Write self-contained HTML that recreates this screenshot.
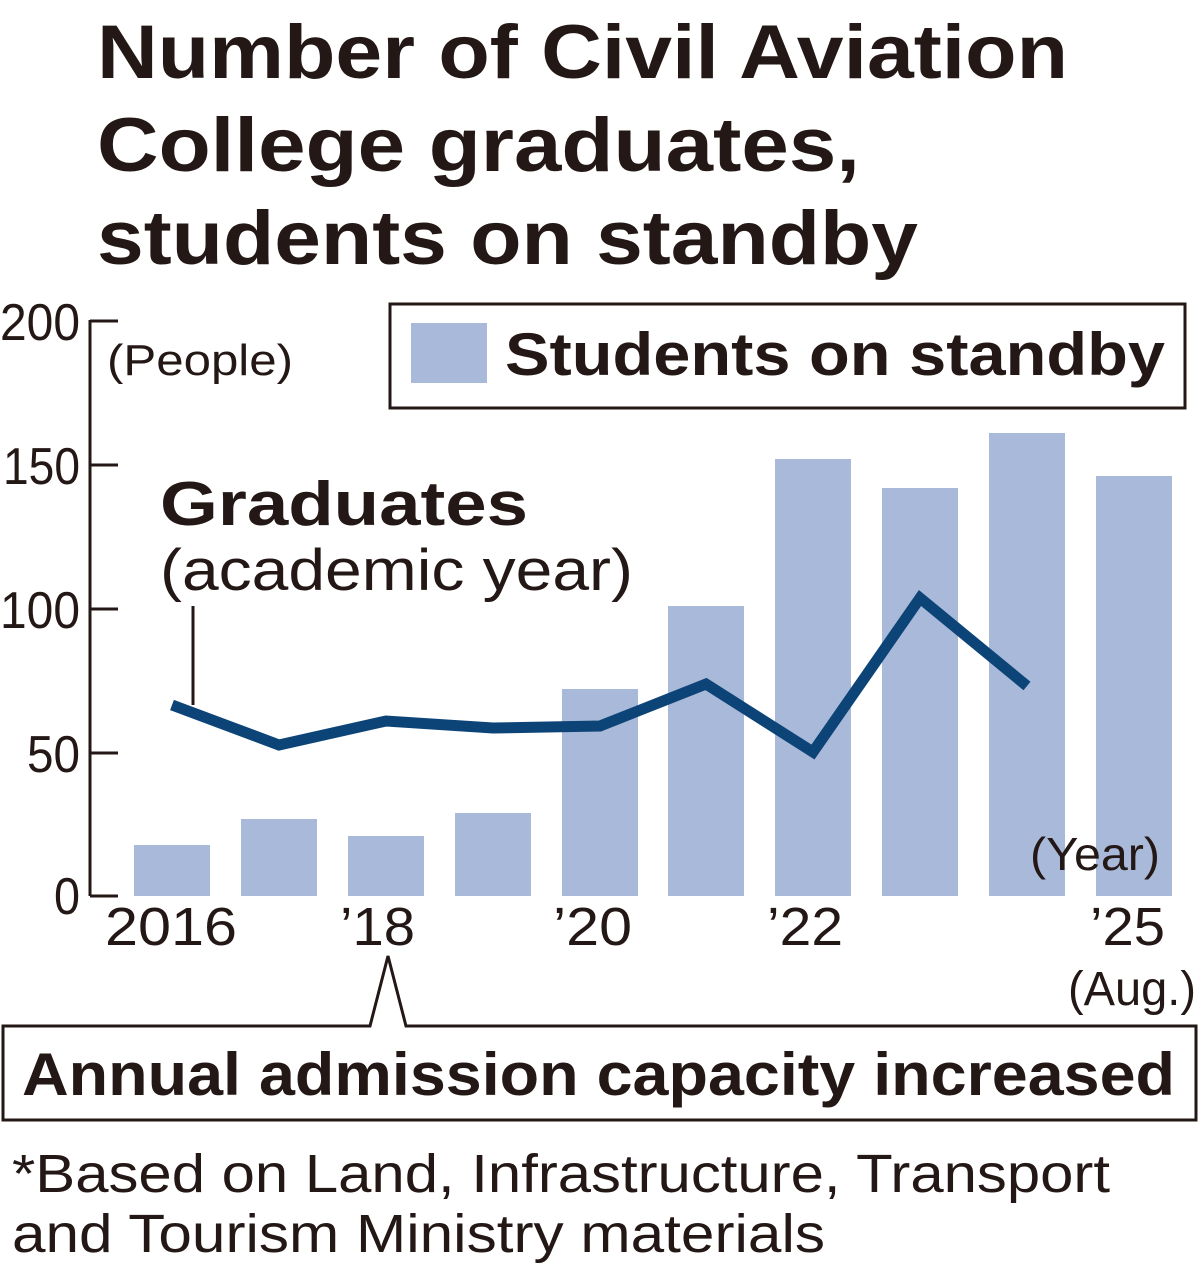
<!DOCTYPE html>
<html><head><meta charset="utf-8"><style>
body{margin:0;background:#fff;}
svg text{font-family:"Liberation Sans",sans-serif;fill:#231815;}
</style></head><body>
<svg width="1200" height="1266" xmlns="http://www.w3.org/2000/svg">
<g font-weight="bold" font-size="76" lengthAdjust="spacingAndGlyphs">
<text x="97" y="78" textLength="971" lengthAdjust="spacingAndGlyphs">Number of Civil Aviation</text>
<text x="97" y="171" textLength="763" lengthAdjust="spacingAndGlyphs">College graduates,</text>
<text x="97" y="264" textLength="821" lengthAdjust="spacingAndGlyphs">students on standby</text>
</g>
<rect x="390" y="304" width="795" height="104" fill="none" stroke="#231815" stroke-width="3"/>
<rect x="411" y="323" width="76" height="60" fill="#a9b9d9"/>
<text x="505" y="375" font-size="60" font-weight="bold" textLength="660" lengthAdjust="spacingAndGlyphs">Students on standby</text>
<g fill="#a9b9d9">
<rect x="134" y="845" width="76" height="51"/>
<rect x="241" y="819" width="76" height="77"/>
<rect x="348" y="836" width="76" height="60"/>
<rect x="455" y="813" width="76" height="83"/>
<rect x="562" y="689" width="76" height="207"/>
<rect x="668" y="606" width="76" height="290"/>
<rect x="775" y="459" width="76" height="437"/>
<rect x="882" y="488" width="76" height="408"/>
<rect x="989" y="433" width="76" height="463"/>
<rect x="1096" y="476" width="76" height="420"/>
</g>
<path d="M90 320V896 M90 321H118 M90 465H118 M90 609H118 M90 753H118 M90 896H118" stroke="#231815" stroke-width="3" fill="none"/>
<g font-size="52">
<text x="0" y="340" textLength="80" lengthAdjust="spacingAndGlyphs">200</text>
<text x="3" y="484" textLength="77" lengthAdjust="spacingAndGlyphs">150</text>
<text x="0" y="628" textLength="80" lengthAdjust="spacingAndGlyphs">100</text>
<text x="27" y="772" textLength="53" lengthAdjust="spacingAndGlyphs">50</text>
<text x="54" y="914" textLength="26" lengthAdjust="spacingAndGlyphs">0</text>
</g>
<text x="107" y="375" font-size="44" textLength="186" lengthAdjust="spacingAndGlyphs">(People)</text>
<text x="160" y="525" font-size="62" font-weight="bold" textLength="368" lengthAdjust="spacingAndGlyphs">Graduates</text>
<text x="160" y="590" font-size="58" textLength="473" lengthAdjust="spacingAndGlyphs">(academic year)</text>
<line x1="193" y1="606" x2="193" y2="705" stroke="#231815" stroke-width="3"/>
<polyline points="172,705 279,745 386,721 493,728 600,726 706,684 813,752 920,598 1027,686" fill="none" stroke="#0d4478" stroke-width="11" stroke-linejoin="miter"/>
<text x="1030" y="870" font-size="46" textLength="130" lengthAdjust="spacingAndGlyphs">(Year)</text>
<g font-size="54">
<text x="105" y="945" textLength="132" lengthAdjust="spacingAndGlyphs">2016</text>
<text x="340" y="945" textLength="75" lengthAdjust="spacingAndGlyphs">’18</text>
<text x="553" y="945" textLength="79" lengthAdjust="spacingAndGlyphs">’20</text>
<text x="767" y="945" textLength="76" lengthAdjust="spacingAndGlyphs">’22</text>
<text x="1090" y="945" textLength="75" lengthAdjust="spacingAndGlyphs">’25</text>
</g>
<text x="1068" y="1005" font-size="48" textLength="128" lengthAdjust="spacingAndGlyphs">(Aug.)</text>
<path d="M3 1026H370L388 956L406 1026H1196V1120H3Z" fill="none" stroke="#231815" stroke-width="3"/>
<text x="22" y="1095" font-size="60" font-weight="bold" textLength="1153" lengthAdjust="spacingAndGlyphs">Annual admission capacity increased</text>
<text x="12" y="1192" font-size="54" textLength="1098" lengthAdjust="spacingAndGlyphs">*Based on Land, Infrastructure, Transport</text>
<text x="12" y="1252" font-size="54" textLength="813" lengthAdjust="spacingAndGlyphs">and Tourism Ministry materials</text>
</svg>
</body></html>
